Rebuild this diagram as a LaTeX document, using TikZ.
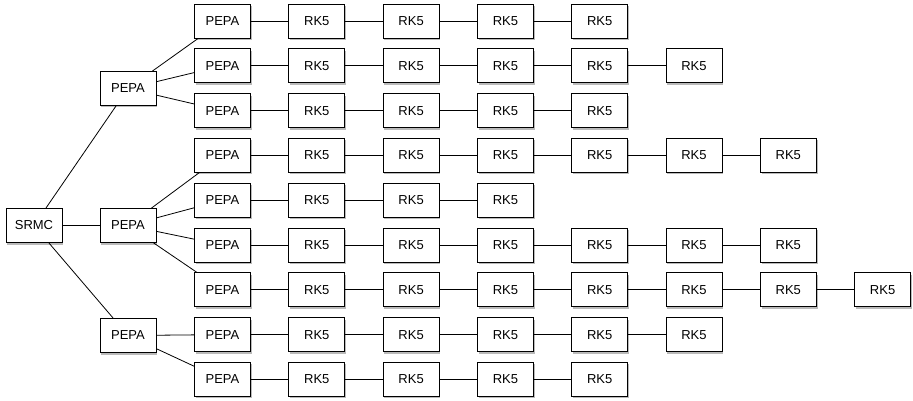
\documentclass[tikz,border=0pt]{standalone}
\usepackage{fontspec}
\setmainfont{Liberation Sans}
\usetikzlibrary{shadows}

\tikzset{box/.style={draw, fill=white, line width=0.8pt, minimum width=56pt, minimum height=34pt, inner sep=0pt,
    font=\fontsize{13}{15}\selectfont,
    drop shadow={shadow xshift=1.2pt, shadow yshift=-2pt, opacity=0.45, fill=black!60}},
  link/.style={line width=0.8pt}}

\begin{document}
\begin{tikzpicture}[x=1pt, y=-1pt]
\useasboundingbox (0,0) rectangle (913,401);
\node[box] (srmc) at (34,225.5) {SRMC};
\node[box] (pa) at (128,88.5) {PEPA};
\node[box] (pb) at (128,225.5) {PEPA};
\node[box] (pc) at (128,335.5) {PEPA};
\draw[link] (srmc) -- (pa);
\draw[link] (srmc) -- (pb);
\draw[link] (srmc) -- (pc);
% one row per solver chain: PEPA then n RK5 steps
\foreach \i/\n/\up in {1/4/pa, 2/5/pa, 3/4/pa, 4/6/pb, 5/3/pb, 6/6/pb, 7/7/pb, 8/5/pc, 9/4/pc} {
  \node[box] (r\i-0) at (222.5,{21+(\i-1)*44.8}) {PEPA};
  \draw[link] (\up) -- (r\i-0);
  \foreach \k in {1,...,\n} {
    \pgfmathtruncatemacro\j{\k-1}
    \node[box] (r\i-\k) at ({222.5+\k*94.3},{21+(\i-1)*44.8}) {RK5};
    \draw[link] (r\i-\j) -- (r\i-\k);
  }
}
\end{tikzpicture}
\end{document}
